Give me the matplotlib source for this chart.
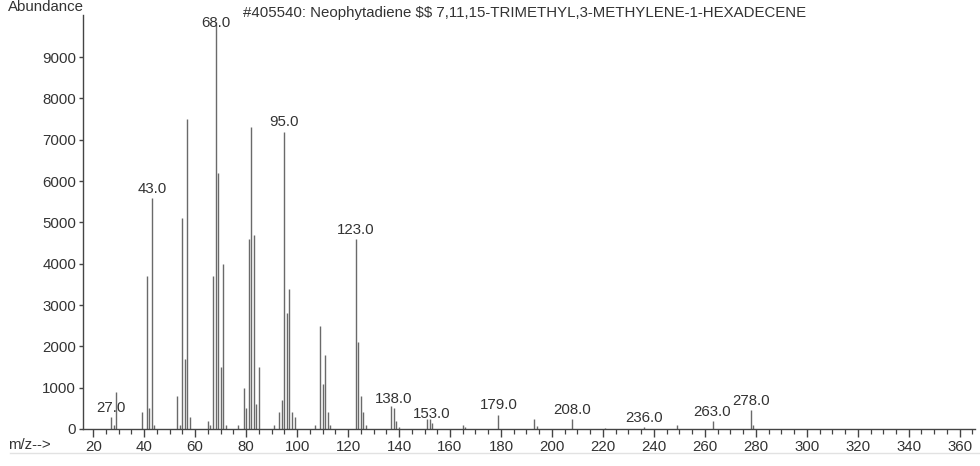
import matplotlib
matplotlib.use("Agg")
import matplotlib.pyplot as plt
from matplotlib.ticker import MultipleLocator

plt.rcParams['font.family'] = ['Liberation Sans', 'DejaVu Sans']

# Mass spectrum peaks: m/z and abundance
mz = [27, 28, 29, 39, 41, 42, 43, 44,
      53, 54, 55, 56, 57, 58,
      65, 66, 67, 68, 69, 70, 71, 72,
      77, 79, 80, 81, 82, 83, 84, 85,
      91, 93, 94, 95, 96, 97, 98, 99,
      107, 109, 110, 111, 112, 113,
      123, 124, 125, 126, 127,
      137, 138, 139, 140,
      151, 152, 153, 165, 166,
      179, 193, 194, 208, 221, 236, 249, 263, 278, 279]
abundance = [300, 100, 900, 400, 3700, 500, 5600, 100,
             800, 100, 5100, 1700, 7500, 300,
             200, 100, 3700, 9850, 6200, 1500, 4000, 100,
             100, 1000, 500, 4600, 7300, 4700, 600, 1500,
             100, 400, 700, 7200, 2800, 3400, 400, 300,
             100, 2500, 1100, 1800, 400, 100,
             4600, 2100, 800, 400, 100,
             550, 500, 200, 60,
             250, 250, 150, 100, 50,
             350, 250, 80, 250, 30, 40, 100, 200, 450, 100]

# Peaks annotated with their m/z value
labeled_mz = [27, 43, 68, 95, 123, 138, 153, 179, 208, 236, 263, 278]

title = "#405540: Neophytadiene \\$\\$ 7,11,15-TRIMETHYL,3-METHYLENE-1-HEXADECENE"
y_ticks = [0, 1000, 2000, 3000, 4000, 5000, 6000, 7000, 8000, 9000]
x_ticks = list(range(20, 361, 20))

FS = 10.8
TEXT = '#333333'
AXC = '#444444'

fig = plt.figure(figsize=(9.8, 4.66), dpi=100)
ax = fig.add_axes([0.0847, 0.0794, 0.9102, 0.8884])

ax.vlines(mz, 0, abundance, colors='#6a6a6a', linewidth=1.0)

YMAX = 10020
# labels are kept inside the plot area, so the tallest one sits over its line
label_cap = 9600
height = dict(zip(mz, abundance))
for m in labeled_mz:
    ax.annotate(f"{m:.1f}", xy=(m, min(height[m], label_cap)), xytext=(0, 1.5),
                textcoords='offset points', ha='center', va='bottom',
                fontsize=FS, color=TEXT)

ax.set_xlim(16, 366)
ax.set_ylim(0, YMAX)

for side in ('top', 'right'):
    ax.spines[side].set_visible(False)
for side in ('left', 'bottom'):
    ax.spines[side].set_color(AXC)
    ax.spines[side].set_linewidth(1.0)

ax.set_xticks(x_ticks)
ax.xaxis.set_minor_locator(MultipleLocator(5))
ax.set_yticks(y_ticks)
ax.tick_params(axis='x', which='major', length=6, width=1.0, color=AXC,
               labelsize=FS, labelcolor=TEXT, pad=2)
ax.tick_params(axis='x', which='minor', length=3.5, width=0.9, color=AXC)
ax.tick_params(axis='y', which='major', length=3, width=1.0, color=AXC,
               labelsize=FS, labelcolor=TEXT, pad=2)

fig.text(0.008, 0.984, "Abundance", ha='left', va='center', fontsize=FS, color=TEXT)
fig.text(0.248, 0.972, title, ha='left', va='center', fontsize=FS, color=TEXT)
fig.text(0.008, 0.045, "m/z-->", ha='left', va='center', fontsize=FS, color=TEXT)

# faint rule under the axis labels
fig.add_artist(plt.Line2D([0.01, 1.0], [0.028, 0.028], color='#e2e2e2', linewidth=1.0))

fig.savefig("out.png", dpi=100, facecolor='white')
